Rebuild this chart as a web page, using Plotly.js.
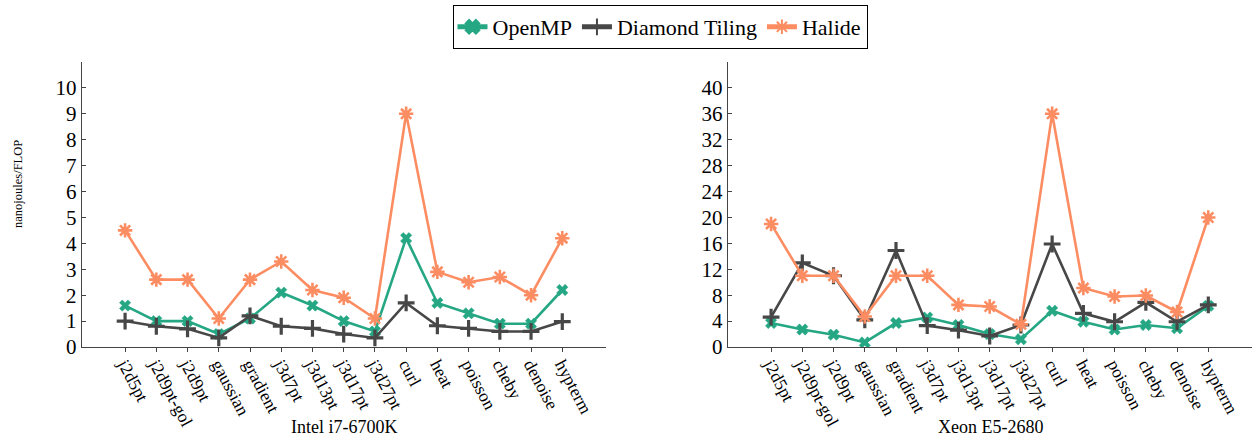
<!DOCTYPE html>
<html>
<head>
<meta charset="utf-8">
<script src="https://cdn.plot.ly/plotly-3.0.1.min.js"></script>
<style>html,body{margin:0;padding:0;background:#fff;}#chart{width:1256px;height:441px;}</style>
</head>
<body>
<div id="chart"></div>
<script>
const categories = ['j2d5pt','j2d9pt-gol','j2d9pt','gaussian','gradient','j3d7pt','j3d13pt','j3d17pt','j3d27pt','curl','heat','poisson','cheby','denoise','hypterm'];

const openmpIntel  = [1.6, 1.0, 1.0, 0.5, 1.1, 2.1, 1.6, 1.0, 0.6, 4.2, 1.7, 1.3, 0.9, 0.9, 2.2];
const diamondIntel = [1.0, 0.8, 0.7, 0.35, 1.2, 0.8, 0.72, 0.5, 0.35, 1.7, 0.82, 0.72, 0.6, 0.6, 0.98];
const halideIntel  = [4.5, 2.6, 2.6, 1.1, 2.6, 3.3, 2.2, 1.9, 1.1, 9.0, 2.9, 2.5, 2.7, 2.0, 4.2];

const openmpXeon  = [3.7, 2.7, 1.9, 0.7, 3.7, 4.55, 3.4, 2.0, 1.2, 5.6, 3.9, 2.7, 3.4, 2.9, 6.35];
const diamondXeon = [4.6, 13, 11, 4.2, 14.9, 3.3, 2.6, 1.7, 3.4, 15.9, 5.2, 3.9, 6.9, 3.9, 6.5];
const halideXeon  = [19, 11, 11, 4.7, 11, 11, 6.5, 6.25, 3.5, 36, 9.1, 7.8, 7.95, 5.4, 20];

const seriesNames = ['OpenMP', 'Diamond Tiling', 'Halide'];
const intelTicks = [0,1,2,3,4,5,6,7,8,9,10];
const xeonTicks = [0,4,8,12,16,20,24,28,32,36,40];

const colors = ['#25a784', '#474747', '#fc8d62'];
const markers = [
  {symbol: 'x', size: 10},
  {symbol: 'cross-thin-open', size: 12, lw: 3.2},
  {symbol: 'asterisk-open', size: 12, lw: 2.6}
];

function mk(name, idx, y, xa, ya, showlegend) {
  const m = markers[idx];
  const marker = {symbol: m.symbol, size: m.size, color: colors[idx]};
  if (m.lw) marker.line = {color: colors[idx], width: m.lw};
  else marker.line = {color: colors[idx], width: 0.5};
  return {
    type: 'scatter', mode: 'lines+markers', name: name,
    x: categories, y: y, xaxis: xa, yaxis: ya,
    line: {color: colors[idx], width: 2.6},
    marker: marker, showlegend: showlegend, legendgroup: name
  };
}

const data = [
  mk(seriesNames[0], 0, openmpIntel, 'x', 'y', true),
  mk(seriesNames[1], 1, diamondIntel, 'x', 'y', true),
  mk(seriesNames[2], 2, halideIntel, 'x', 'y', true),
  mk(seriesNames[0], 0, openmpXeon, 'x2', 'y2', false),
  mk(seriesNames[1], 1, diamondXeon, 'x2', 'y2', false),
  mk(seriesNames[2], 2, halideXeon, 'x2', 'y2', false)
];

const W = 1256, H = 441;
const yDom = [(H-347)/H, (H-62)/H];
const font = 'Liberation Serif';

function xAxis(dom, anchor) {
  return {
    domain: dom, anchor: anchor, type: 'category', range: [-1.38, 15.4],
    showline: true, linecolor: '#444', linewidth: 1.3, showgrid: false, zeroline: false,
    ticks: 'outside', ticklen: 4, tickcolor: '#444', tickwidth: 1,
    tickangle: 62, tickfont: {family: font, size: 17.5, color: '#000'},
    ticklabelstandoff: -5,
    automargin: false, fixedrange: true
  };
}
function yAxis(anchor, ticks, range) {
  return {
    domain: yDom, anchor: anchor, range: range,
    tickmode: 'array', tickvals: ticks, ticktext: ticks.map(String),
    showline: true, linecolor: '#444', linewidth: 1.3, showgrid: false, zeroline: false,
    ticks: 'inside', ticklen: 4, tickcolor: '#444', tickwidth: 1,
    tickfont: {family: font, size: 21, color: '#000'}, automargin: false, fixedrange: true
  };
}

const layout = {
  width: W, height: H,
  margin: {l: 0, r: 0, t: 0, b: 0},
  paper_bgcolor: '#fff', plot_bgcolor: '#fff',
  font: {family: font, color: '#000'},
  showlegend: true,
  xaxis: xAxis([82/W, 606/W], 'y'),
  yaxis: yAxis('x', intelTicks, [0, 11]),
  xaxis2: xAxis([728/W, 1252/W], 'y2'),
  yaxis2: yAxis('x2', xeonTicks, [0, 44]),
  legend: {
    orientation: 'h', x: 660/W, xanchor: 'center', y: 1 - 5/H, yanchor: 'top',
    bordercolor: '#000', borderwidth: 1, bgcolor: '#fff',
    font: {family: font, size: 22, color: '#000'}, itemsizing: 'constant'
  },
  annotations: [
    {text: 'nanojoules/FLOP', xref: 'paper', yref: 'paper', x: 18/W, y: (H-184)/H,
     xanchor: 'center', yanchor: 'middle',
     showarrow: false, textangle: -90, font: {family: font, size: 12.5, color: '#000'}},
    {text: 'Intel i7-6700K', xref: 'paper', yref: 'paper', x: 344/W, y: (H-427)/H,
     xanchor: 'center', yanchor: 'middle',
     showarrow: false, font: {family: font, size: 18, color: '#000'}},
    {text: 'Xeon E5-2680', xref: 'paper', yref: 'paper', x: 990/W, y: (H-427)/H,
     xanchor: 'center', yanchor: 'middle',
     showarrow: false, font: {family: font, size: 18, color: '#000'}}
  ]
};

Plotly.newPlot('chart', data, layout, {displayModeBar: false, staticPlot: true});
</script>
</body>
</html>
